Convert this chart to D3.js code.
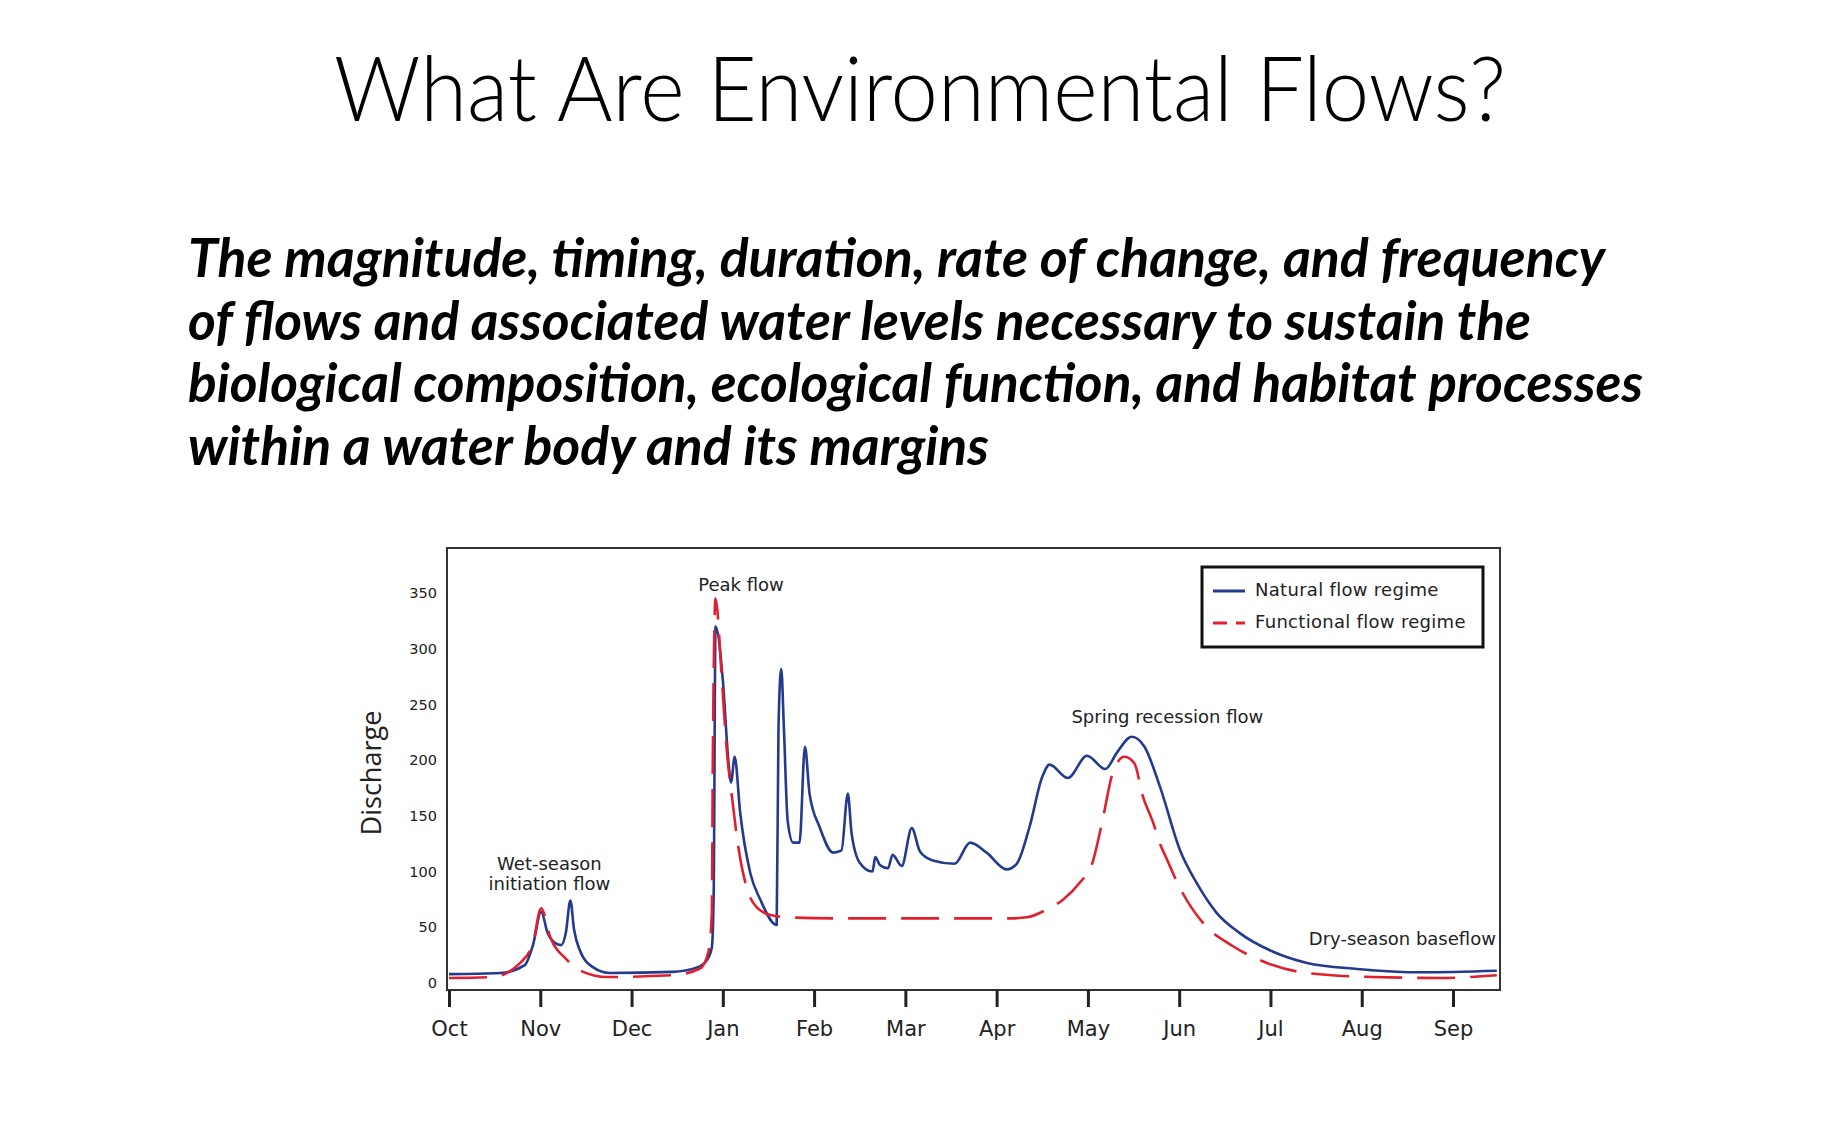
<!DOCTYPE html>
<html>
<head>
<meta charset="utf-8">
<script src="https://cdn.jsdelivr.net/npm/d3@7"></script>
<style>
  body { margin: 0; background: #fff; }
  svg { display: block; }
</style>
</head>
<body>
<div id="chart"></div>
<script>
const WIDTH = 1840
const HEIGHT = 1125

const titleText = 'What Are Environmental Flows?'
const bodyLines = [
    'The magnitude, timing, duration, rate of change, and frequency',
    'of flows and associated water levels necessary to sustain the',
    'biological composition, ecological function, and habitat processes',
    'within a water body and its margins'
]

const months = ['Oct', 'Nov', 'Dec', 'Jan', 'Feb', 'Mar', 'Apr', 'May', 'Jun', 'Jul', 'Aug', 'Sep']
const yTicks = [0, 50, 100, 150, 200, 250, 300, 350]

// month position (0 = start of Oct), discharge
const naturalFlow = [
    [0.00, 8], [0.56, 9], [0.83, 16], [0.92, 34], [1.01, 64], [1.08, 45], [1.16, 36],
    [1.23, 34], [1.28, 45], [1.33, 74], [1.37, 48], [1.43, 30], [1.58, 14], [1.76, 9],
    [2.45, 10], [2.72, 14], [2.83, 21], [2.88, 32], [2.90, 80], [2.92, 320], [3.00, 272],
    [3.06, 200], [3.09, 180], [3.13, 203], [3.19, 153], [3.30, 99], [3.41, 75], [3.59, 52],
    [3.61, 230], [3.64, 282], [3.67, 227], [3.71, 146], [3.77, 126], [3.84, 126], [3.90, 212],
    [3.95, 170], [4.06, 140], [4.21, 117], [4.30, 119], [4.37, 170], [4.41, 135], [4.50, 108],
    [4.64, 100], [4.67, 113], [4.72, 106], [4.81, 103], [4.86, 115], [4.96, 105], [5.07, 139],
    [5.16, 118], [5.30, 110], [5.54, 107], [5.71, 126], [5.89, 117], [6.11, 102], [6.22, 107],
    [6.36, 140], [6.50, 185], [6.58, 196], [6.78, 184], [6.99, 204], [7.19, 192], [7.32, 207],
    [7.48, 221], [7.62, 212], [7.79, 176], [8.01, 119], [8.19, 90], [8.41, 63], [8.66, 45],
    [9.03, 28], [9.40, 18], [9.95, 12.6], [10.67, 9.6], [11.48, 11]
]

const functionalFlow = [
    [0.00, 4.5], [0.48, 5.4], [0.78, 18], [0.92, 36], [1.01, 67], [1.11, 41], [1.29, 21],
    [1.47, 10], [1.73, 5.4], [2.45, 7], [2.75, 13], [2.84, 27], [2.88, 63], [2.89, 197],
    [2.92, 345], [2.99, 272], [3.04, 212], [3.10, 167], [3.17, 122], [3.26, 86], [3.37, 68],
    [3.52, 61], [3.70, 59], [4.28, 58], [6.14, 58], [6.33, 59], [6.55, 66], [6.73, 75],
    [6.91, 90], [7.05, 108], [7.16, 146], [7.27, 188], [7.40, 203], [7.51, 197], [7.60, 168],
    [7.71, 145], [7.79, 125], [7.86, 112], [8.01, 85], [8.26, 54], [8.59, 33], [8.96, 18],
    [9.40, 9], [10.12, 5.4], [10.85, 4.5], [11.48, 7]
]

const annotations = [
    { lines: ['Peak flow'], x: 3.2, y: 352 },
    { lines: ['Wet-season', 'initiation flow'], x: 1.1, y: 101 },
    { lines: ['Spring recession flow'], x: 7.87, y: 233 },
    { lines: ['Dry-season baseflow'], x: 11.47, y: 34 }
]

const legendItems = [
    { label: 'Natural flow regime', colour: '#233a8f', dash: null },
    { label: 'Functional flow regime', colour: '#e11f2e', dash: '14,9' }
]

const svg = d3.select('#chart')
    .append('svg')
    .attr('width', WIDTH)
    .attr('height', HEIGHT)

// slide title + definition
svg.append('text')
    .attr('x', 920)
    .attr('y', 121)
    .attr('text-anchor', 'middle')
    .attr('textLength', 1172)
    .attr('lengthAdjust', 'spacingAndGlyphs')
    .style('font-family', 'Lato, "Open Sans", sans-serif')
    .style('font-weight', 300)
    .style('font-size', '90px')
    .text(titleText)

const bodyWidths = [1417, 1343, 1455, 801]
svg.selectAll('.body-line')
    .data(bodyLines)
    .join('text')
    .attr('class', 'body-line')
    .attr('x', 188)
    .attr('y', (d, i) => 277 + i * 62.6)
    .attr('textLength', (d, i) => bodyWidths[i])
    .attr('lengthAdjust', 'spacingAndGlyphs')
    .style('font-family', 'Lato, "Open Sans", sans-serif')
    .style('font-weight', 'bold')
    .style('font-style', 'italic')
    .style('font-size', '54px')
    .text(d => d)

// chart
const frame = { left: 447, right: 1500, top: 548, bottom: 990 }

const xScale = d3.scaleLinear()
    .domain([0, 11])
    .range([449, 1453])

const yScale = d3.scaleLinear()
    .domain([0, 350])
    .range([983, 593])

svg.append('rect')
    .attr('x', frame.left)
    .attr('y', frame.top)
    .attr('width', frame.right - frame.left)
    .attr('height', frame.bottom - frame.top)
    .attr('fill', 'none')
    .attr('stroke', '#333')
    .attr('stroke-width', 2)

const xAxis = svg.append('g')
    .attr('transform', `translate(0, ${frame.bottom})`)
    .call(d3.axisBottom(xScale)
        .tickValues(d3.range(months.length))
        .tickFormat(i => months[i])
        .tickSize(17)
        .tickPadding(14))
xAxis.select('.domain').remove()
xAxis.selectAll('line').attr('stroke', '#222').attr('stroke-width', 3)
xAxis.selectAll('text')
    .style('font-family', '"DejaVu Sans", sans-serif')
    .style('font-size', '21px')
    .attr('fill', '#222')

const yAxis = svg.append('g')
    .attr('transform', `translate(${frame.left}, 0)`)
    .call(d3.axisLeft(yScale).tickValues(yTicks).tickSize(0).tickPadding(10))
yAxis.select('.domain').remove()
yAxis.selectAll('text')
    .style('font-family', '"DejaVu Sans", sans-serif')
    .style('font-size', '14.5px')
    .attr('fill', '#222')

svg.append('text')
    .attr('transform', 'translate(381, 773) rotate(-90)')
    .attr('text-anchor', 'middle')
    .attr('textLength', 125)
    .attr('lengthAdjust', 'spacingAndGlyphs')
    .style('font-family', '"Open Sans", sans-serif')
    .style('font-size', '28px')
    .attr('fill', '#222')
    .text('Discharge')

const line = d3.line()
    .x(d => xScale(d[0]))
    .y(d => yScale(d[1]))
    .curve(d3.curveMonotoneX)

svg.append('path')
    .datum(naturalFlow)
    .attr('d', line)
    .attr('fill', 'none')
    .attr('stroke', legendItems[0].colour)
    .attr('stroke-width', 2.6)
    .attr('stroke-linejoin', 'round')

svg.append('path')
    .datum(functionalFlow)
    .attr('d', line)
    .attr('fill', 'none')
    .attr('stroke', legendItems[1].colour)
    .attr('stroke-width', 2.6)
    .attr('stroke-dasharray', '38,15')

// annotations
annotations.forEach(a => {
    const t = svg.append('text')
        .attr('x', xScale(a.x))
        .attr('y', yScale(a.y))
        .attr('text-anchor', a.x > 11 ? 'end' : 'middle')
        .style('font-family', '"DejaVu Sans", sans-serif')
        .style('font-size', '18px')
        .attr('fill', '#222')
    a.lines.forEach((l, i) => {
        t.append('tspan')
            .attr('x', xScale(a.x))
            .attr('dy', i === 0 ? 0 : 20)
            .text(l)
    })
})

// legend
const legend = svg.append('g').attr('transform', 'translate(1202, 567)')
legend.append('rect')
    .attr('width', 281)
    .attr('height', 80)
    .attr('fill', '#fff')
    .attr('stroke', '#111')
    .attr('stroke-width', 3)

const legendRow = legend.selectAll('.legend-row')
    .data(legendItems)
    .join('g')
    .attr('class', 'legend-row')
    .attr('transform', (d, i) => `translate(0, ${24 + i * 32})`)

legendRow.append('line')
    .attr('x1', 11)
    .attr('x2', 43)
    .attr('stroke', d => d.colour)
    .attr('stroke-width', 3)
    .attr('stroke-dasharray', d => d.dash)

legendRow.append('text')
    .attr('x', 53)
    .attr('y', 5)
    .style('font-family', '"DejaVu Sans", sans-serif')
    .style('font-size', '18px')
    .style('letter-spacing', '0.3px')
    .attr('fill', '#222')
    .text(d => d.label)
</script>
</body>
</html>
